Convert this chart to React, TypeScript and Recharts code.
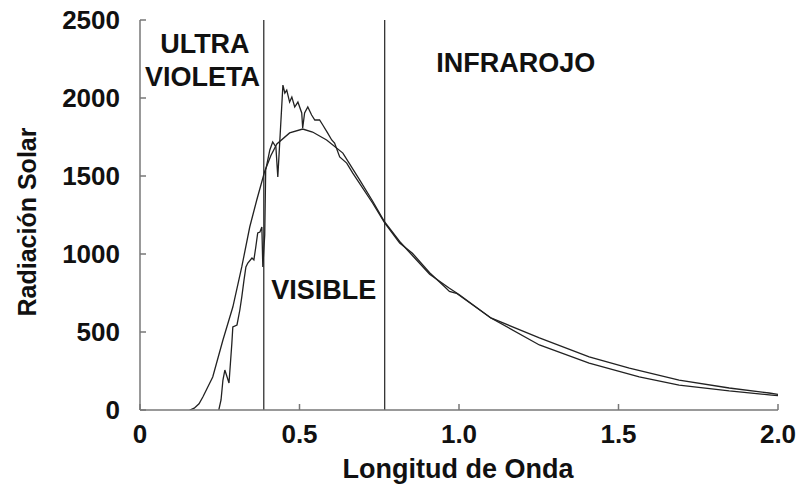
import React from "react";
import { LineChart, Line, XAxis, YAxis, ReferenceLine, ReferenceDot } from "recharts";

// longitud de onda (µm) y radiación
const smoothWl = [0.156, 0.17, 0.185, 0.197, 0.228, 0.26, 0.291, 0.319, 0.344, 0.366, 0.391, 0.41, 0.429, 0.469, 0.51, 0.541, 0.585, 0.636, 0.689, 0.729, 0.767, 0.814, 0.854, 0.908, 0.97, 1.0, 1.1, 1.252, 1.408, 1.565, 1.69, 1.847, 1.98, 2.0];
const smoothRad = [0, 12, 40, 83, 212, 449, 660, 917, 1173, 1346, 1530, 1630, 1705, 1776, 1801, 1782, 1731, 1647, 1474, 1340, 1205, 1080, 990, 870, 780, 740, 590, 417, 301, 212, 160, 122, 96, 92];

const measuredWl = [0.247, 0.254, 0.26, 0.266, 0.279, 0.288, 0.291, 0.304, 0.313, 0.319, 0.326, 0.332, 0.338, 0.351, 0.357, 0.363, 0.369, 0.376, 0.382, 0.385, 0.391, 0.394, 0.407, 0.416, 0.426, 0.432, 0.448, 0.454, 0.46, 0.469, 0.476, 0.485, 0.495, 0.507, 0.51, 0.516, 0.526, 0.538, 0.548, 0.563, 0.573, 0.588, 0.601, 0.61, 0.626, 0.648, 0.667, 0.729, 0.767, 0.814, 0.854, 0.908, 0.955, 0.97, 0.992, 1.1, 1.252, 1.408, 1.534, 1.69, 1.847, 1.972, 2.0];
const measuredRad = [0, 64, 192, 256, 173, 429, 532, 545, 641, 724, 833, 917, 942, 974, 962, 1045, 1135, 1141, 1173, 917, 1122, 1538, 1667, 1718, 1686, 1494, 2083, 2032, 2051, 1974, 2006, 1942, 1974, 1904, 1808, 1904, 1942, 1891, 1859, 1859, 1827, 1776, 1731, 1711, 1622, 1583, 1519, 1327, 1199, 1070, 1005, 880, 790, 760, 748, 590, 462, 340, 269, 192, 141, 109, 100];

const xTicks = [0, 0.5, 1.0, 1.5, 2.0];
const xTickLabels = ["0", "0.5", "1.0", "1.5", "2.0"];
const yTicks = [0, 500, 1000, 1500, 2000, 2500];

// limites de las bandas
const uvLimit = 0.388;
const irLimit = 0.767;

const smoothData = smoothWl.map((x, i) => ({ x, y: smoothRad[i] }));
const measuredData = measuredWl.map((x, i) => ({ x, y: measuredRad[i] }));

const FONT = '"Liberation Sans", Arial, Helvetica, sans-serif';
const AXIS = "#777";
const INK = "#111";
const TICK_LEN = 6;

const textStyle = { fontFamily: FONT, fontWeight: 700, fill: INK };

function BottomTick(props: any) {
  const { x, y, index } = props;
  return (
    <g>
      <line x1={x} y1={y} x2={x} y2={y - TICK_LEN} stroke={AXIS} strokeWidth={1.5} />
      <text x={x} y={y + 23.5} dy="0.36em" textAnchor="middle" fontSize={26} {...textStyle}>
        {xTickLabels[index]}
      </text>
    </g>
  );
}

function TopTick(props: any) {
  const { x, y } = props;
  return <line x1={x} y1={y} x2={x} y2={y + TICK_LEN} stroke={AXIS} strokeWidth={1.5} />;
}

function LeftTick(props: any) {
  const { x, y, payload } = props;
  return (
    <g>
      <line x1={x} y1={y} x2={x + TICK_LEN} y2={y} stroke={AXIS} strokeWidth={1.5} />
      <text x={x - 20} y={y} dy="0.36em" textAnchor="end" fontSize={26} {...textStyle}>
        {payload.value}
      </text>
    </g>
  );
}

function RightTick(props: any) {
  const { x, y } = props;
  return <line x1={x} y1={y} x2={x - TICK_LEN} y2={y} stroke={AXIS} strokeWidth={1.5} />;
}

const annoStyle = { fontFamily: FONT, fontWeight: 700, fontSize: 27, fill: INK };

export default function App() {
  return (
    <div style={{ position: "relative", width: 798, height: 487 }}>
      <style>{"html, body { margin: 0; overflow: hidden; }"}</style>
      <LineChart
        width={798}
        height={487}
        margin={{ top: 20, right: 20, bottom: 17, left: 80 }}
      >
        <XAxis
          dataKey="x"
          type="number"
          domain={[0, 2]}
          ticks={xTicks}
          allowDataOverflow
          height={60}
          tickSize={0}
          tickMargin={0}
          axisLine={{ stroke: AXIS, strokeWidth: 1.5 }}
          tick={(p: any) => <BottomTick {...p} />}
        />
        <XAxis
          xAxisId="top"
          orientation="top"
          dataKey="x"
          type="number"
          domain={[0, 2]}
          ticks={xTicks}
          allowDataOverflow
          height={0}
          tickSize={0}
          tickMargin={0}
          axisLine={{ stroke: AXIS, strokeWidth: 1.5 }}
          tick={(p: any) => <TopTick {...p} />}
        />
        <YAxis
          type="number"
          domain={[0, 2500]}
          ticks={yTicks}
          allowDataOverflow
          width={60}
          tickSize={0}
          tickMargin={0}
          axisLine={{ stroke: AXIS, strokeWidth: 1.5 }}
          tick={(p: any) => <LeftTick {...p} />}
        />
        <YAxis
          yAxisId="right"
          orientation="right"
          type="number"
          domain={[0, 2500]}
          ticks={yTicks}
          allowDataOverflow
          width={0}
          tickSize={0}
          tickMargin={0}
          axisLine={{ stroke: AXIS, strokeWidth: 1.5 }}
          tick={(p: any) => <RightTick {...p} />}
        />
        <ReferenceLine x={uvLimit} stroke="#333" strokeWidth={1.3} />
        <ReferenceLine x={irLimit} stroke="#333" strokeWidth={1.3} />
        <Line
          data={smoothData}
          dataKey="y"
          type="linear"
          stroke="#222"
          strokeWidth={1.3}
          dot={false}
          isAnimationActive={false}
        />
        <Line
          data={measuredData}
          dataKey="y"
          type="linear"
          stroke="#222"
          strokeWidth={1.3}
          dot={false}
          isAnimationActive={false}
        />
        <ReferenceDot x={0.2034} y={2353} r={0} ifOverflow="visible"
          label={{ value: "ULTRA", position: "center", ...annoStyle }} />
        <ReferenceDot x={0.1956} y={2141} r={0} ifOverflow="visible"
          label={{ value: "VIOLETA", position: "center", ...annoStyle }} />
        <ReferenceDot x={0.576} y={776} r={0} ifOverflow="visible"
          label={{ value: "VISIBLE", position: "center", ...annoStyle }} />
        <ReferenceDot x={1.178} y={2231} r={0} ifOverflow="visible"
          label={{ value: "INFRAROJO", position: "center", ...annoStyle }} />
      </LineChart>
      <svg
        width={798}
        height={487}
        style={{ position: "absolute", left: 0, top: 0, pointerEvents: "none" }}
      >
        <text x={458} y={478} textAnchor="middle" fontSize={27} {...textStyle}>
          Longitud de Onda
        </text>
        <text
          x={26.5}
          y={222}
          dy="0.36em"
          textAnchor="middle"
          fontSize={25}
          transform="rotate(-90 26.5 222)"
          {...textStyle}
        >
          Radiación Solar
        </text>
      </svg>
    </div>
  );
}
